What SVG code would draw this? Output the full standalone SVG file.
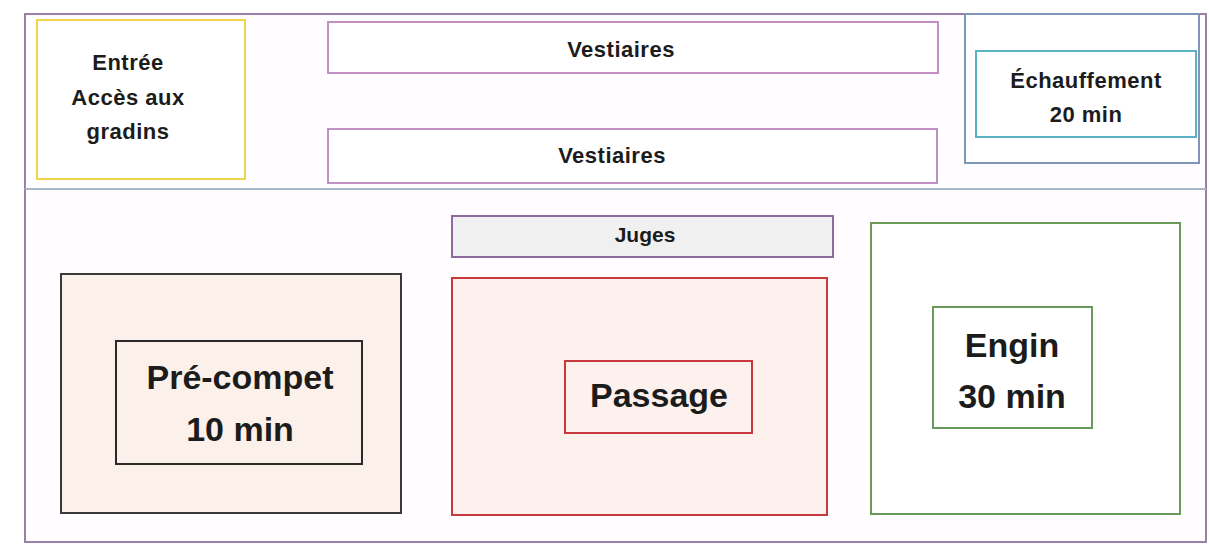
<svg xmlns="http://www.w3.org/2000/svg" width="1209" height="545" viewBox="0 0 1209 545">
<style>
  .t { font-family: "Liberation Sans", Arial, sans-serif; font-weight: bold; fill: #1c1c1c; text-anchor: middle; }
  .s { font-size: 22px; letter-spacing: 0.5px; }
  .m { font-size: 21px; }
  .b { font-size: 34px; }
  rect { stroke-width: 2; }
</style>
<rect x="0" y="0" width="1209" height="545" fill="#ffffff" stroke="none"/>
<g id="frame">
  <rect x="25" y="14" width="1181" height="528" fill="#fffdff" stroke="#9a80a8"/>
  <line x1="25" y1="189" x2="1206" y2="189" stroke="#a5b8c6" stroke-width="2"/>
</g>
<g id="entree">
  <rect x="37" y="20" width="208" height="159" fill="#ffffff" stroke="#f0d447"/>
  <text class="t s" x="128" y="70">Entrée</text>
  <text class="t s" x="128" y="105">Accès aux</text>
  <text class="t s" x="128" y="139">gradins</text>
</g>
<g id="vestiaires1">
  <rect x="328" y="22" width="610" height="51" fill="#ffffff" stroke="#c290c4"/>
  <text class="t s" x="621" y="57">Vestiaires</text>
</g>
<g id="vestiaires2">
  <rect x="328" y="129" width="609" height="54" fill="#ffffff" stroke="#c290c4"/>
  <text class="t s" x="612" y="163">Vestiaires</text>
</g>
<g id="echauffement">
  <rect x="965" y="14" width="234" height="149" fill="#ffffff" stroke="#7f96b8"/>
  <rect x="976" y="51" width="220" height="86" fill="#ffffff" stroke="#5ab3c4"/>
  <text class="t s" x="1086" y="88">Échauffement</text>
  <text class="t s" x="1086" y="122">20 min</text>
</g>
<g id="juges">
  <rect x="452" y="216" width="381" height="41" fill="#f0f0f0" stroke="#8e6a9e"/>
  <text class="t m" x="645" y="242">Juges</text>
</g>
<g id="precompet">
  <rect x="61" y="274" width="340" height="239" fill="#fbf0ea" stroke="#3a3a3a"/>
  <rect x="116" y="341" width="246" height="123" fill="#fbf0ea" stroke="#2a2a2a"/>
  <text class="t b" x="240" y="389">Pré-compet</text>
  <text class="t b" x="240" y="441">10 min</text>
</g>
<g id="passage">
  <rect x="452" y="278" width="375" height="237" fill="#fcf1ec" stroke="#c8393d"/>
  <rect x="565" y="361" width="187" height="72" fill="#fcf1ec" stroke="#c8393d"/>
  <text class="t b" x="659" y="407">Passage</text>
</g>
<g id="engin">
  <rect x="871" y="223" width="309" height="291" fill="#ffffff" stroke="#6a9a5a"/>
  <rect x="933" y="307" width="159" height="121" fill="#ffffff" stroke="#6a9a5a"/>
  <text class="t b" x="1012" y="357">Engin</text>
  <text class="t b" x="1012" y="408">30 min</text>
</g>
<g id="connectors"></g>
</svg>
